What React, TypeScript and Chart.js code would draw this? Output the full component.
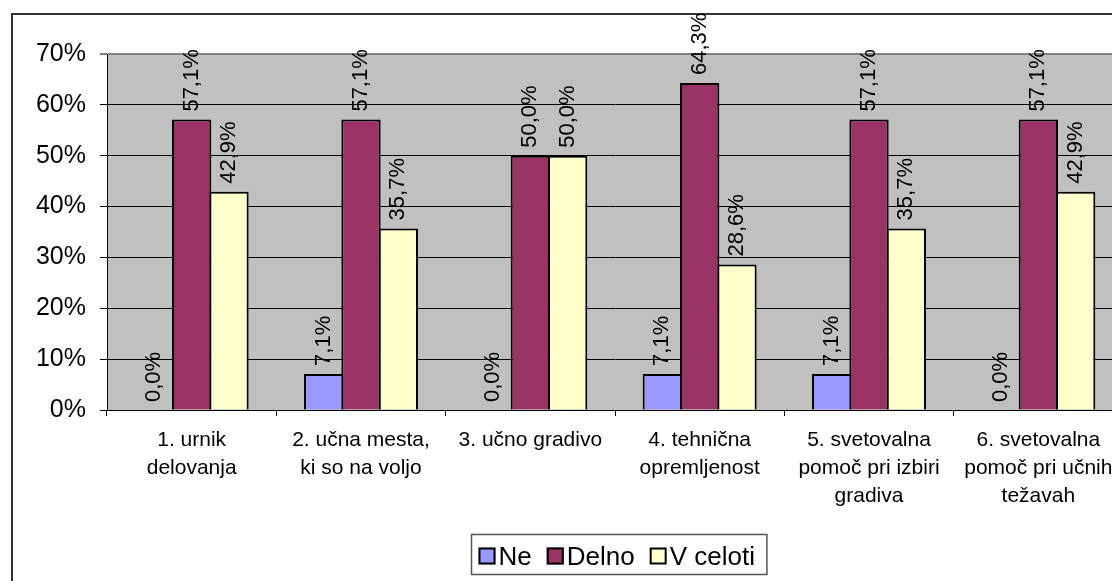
import React, { useEffect, useRef } from "react";
import { Chart, registerables } from "chart.js";

Chart.register(...registerables);

const categories: string[][] = [
  ["1. urnik", "delovanja"],
  ["2. učna mesta,", "ki so na voljo"],
  ["3. učno gradivo"],
  ["4. tehnična", "opremljenost"],
  ["5. svetovalna", "pomoč pri izbiri", "gradiva"],
  ["6. svetovalna", "pomoč pri učnih", "težavah"],
];

const seriesNames = ["Ne", "Delno", "V celoti"];
const neValues = [0, 7.1, 0, 7.1, 7.1, 0];
const delnoValues = [57.1, 57.1, 50.0, 64.3, 57.1, 57.1];
const vCelotiValues = [42.9, 35.7, 50.0, 28.6, 35.7, 42.9];
const seriesColors = ["#9999FF", "#993366", "#FFFFCC"];

const yMin = 0;
const yMax = 70;
const yStep = 10;

const FONT = "'Liberation Sans', Arial, Helvetica, sans-serif";

const fmt = (v: number) => v.toFixed(1).replace(".", ",") + "%";

const backgroundPlugin = {
  id: "bgPlugin",
  beforeDraw(chart: any) {
    const { ctx, chartArea, width, height } = chart;
    ctx.save();
    ctx.fillStyle = "#ffffff";
    ctx.fillRect(0, 0, width, height);
    ctx.strokeStyle = "#333333";
    ctx.lineWidth = 2;
    ctx.strokeRect(12, 14, width + 50, height + 50);
    ctx.fillStyle = "#C0C0C0";
    ctx.fillRect(
      chartArea.left,
      chartArea.top,
      chartArea.right - chartArea.left,
      chartArea.bottom - chartArea.top
    );
    ctx.restore();
  },
};

const valueLabelPlugin = {
  id: "valueLabels",
  afterDatasetsDraw(chart: any) {
    const { ctx } = chart;
    chart.data.datasets.forEach((ds: any, i: number) => {
      const meta = chart.getDatasetMeta(i);
      meta.data.forEach((el: any, j: number) => {
        const v = ds.data[j] as number;
        ctx.save();
        ctx.translate(el.x, el.y - 8);
        ctx.rotate(-Math.PI / 2);
        ctx.font = `22px ${FONT}`;
        ctx.fillStyle = "#000000";
        ctx.textAlign = "left";
        ctx.textBaseline = "middle";
        ctx.fillText(fmt(v), 0, 0);
        ctx.restore();
      });
    });
  },
};

const legendPlugin = {
  id: "boxLegend",
  afterDraw(chart: any) {
    const { ctx } = chart;
    const fontSize = 26;
    ctx.save();
    ctx.font = `${fontSize}px ${FONT}`;
    const sq = 17;
    const gapSqText = 3;
    const gapItems = 15;
    const padL = 7;
    const padR = 12;
    const widths = seriesNames.map((n) => ctx.measureText(n).width);
    let total = padL + padR + gapItems * (seriesNames.length - 1);
    widths.forEach((w) => (total += sq + gapSqText + w));
    const cx = chart.width / 2 - 1;
    const boxLeft = Math.round(cx - total / 2) + 0.5;
    const boxTop = 534.5;
    const boxH = 40;
    ctx.strokeStyle = "#555555";
    ctx.lineWidth = 1.5;
    ctx.fillStyle = "#ffffff";
    ctx.fillRect(boxLeft, boxTop, total, boxH);
    ctx.strokeRect(boxLeft, boxTop, total, boxH);
    const cy = 556;
    let x = boxLeft + padL;
    seriesNames.forEach((n, i) => {
      ctx.fillStyle = seriesColors[i];
      ctx.fillRect(x, cy - sq / 2, sq, sq);
      ctx.strokeStyle = "#000000";
      ctx.lineWidth = 2;
      ctx.strokeRect(x + 1, cy - sq / 2 + 1, sq - 2, sq - 2);
      ctx.fillStyle = "#000000";
      ctx.textAlign = "left";
      ctx.textBaseline = "alphabetic";
      ctx.fillText(n, x + sq + gapSqText, cy + 9);
      x += sq + gapSqText + widths[i] + gapItems;
    });
    ctx.restore();
  },
};

export default function App() {
  const ref = useRef<HTMLCanvasElement | null>(null);

  useEffect(() => {
    if (!ref.current) return;
    const seriesValues = [neValues, delnoValues, vCelotiValues];
    const chart = new Chart(ref.current, {
      type: "bar",
      data: {
        labels: categories,
        datasets: seriesNames.map((name, i) => ({
          label: name,
          data: seriesValues[i],
          backgroundColor: seriesColors[i],
          borderColor: "#000000",
          borderWidth: 2,
          categoryPercentage: 0.661,
          barPercentage: 1.054,
        })),
      },
      options: {
        animation: false,
        responsive: false,
        devicePixelRatio: 1,
        layout: { padding: { top: 54, left: 0, right: 117, bottom: 0 } },
        plugins: {
          legend: { display: false },
          tooltip: { enabled: false },
        },
        scales: {
          x: {
            offset: true,
            grid: {
              offset: true,
              drawOnChartArea: false,
              drawTicks: true,
              tickLength: 6,
              color: "#000000",
              lineWidth: 1,
            },
            border: { display: true, color: "#000000", width: 1 },
            ticks: {
              font: { family: FONT, size: 21, lineHeight: 1.33 },
              color: "#000000",
              padding: 10,
              maxRotation: 0,
              minRotation: 0,
              autoSkip: false,
            },
            afterFit: (s: any) => {
              s.height = 171;
            },
          },
          y: {
            min: yMin,
            max: yMax,
            ticks: {
              stepSize: yStep,
              callback: (v: any) => v + "%",
              font: { family: FONT, size: 25 },
              color: "#000000",
              padding: 14,
            },
            grid: {
              color: (c: any) =>
                c.tick && c.tick.value === yMax ? "#808080" : "#000000",
              lineWidth: (c: any) => (c.tick && c.tick.value === yMax ? 2 : 1),
              tickLength: 7,
              tickColor: "#000000",
              tickWidth: 1,
              drawTicks: true,
            },
            border: { display: true, color: "#000000", width: 1 },
            afterFit: (s: any) => {
              s.width = 107;
            },
          },
        },
      } as any,
      plugins: [backgroundPlugin, valueLabelPlugin, legendPlugin],
    });
    return () => chart.destroy();
  }, []);

  return (
    <div
      style={{
        position: "fixed",
        left: 0,
        top: 0,
        width: 1112,
        height: 581,
        overflow: "hidden",
        background: "#ffffff",
      }}
    >
      <canvas
        ref={ref}
        width={1240}
        height={581}
        style={{ display: "block", width: 1240, height: 581 }}
      />
    </div>
  );
}
